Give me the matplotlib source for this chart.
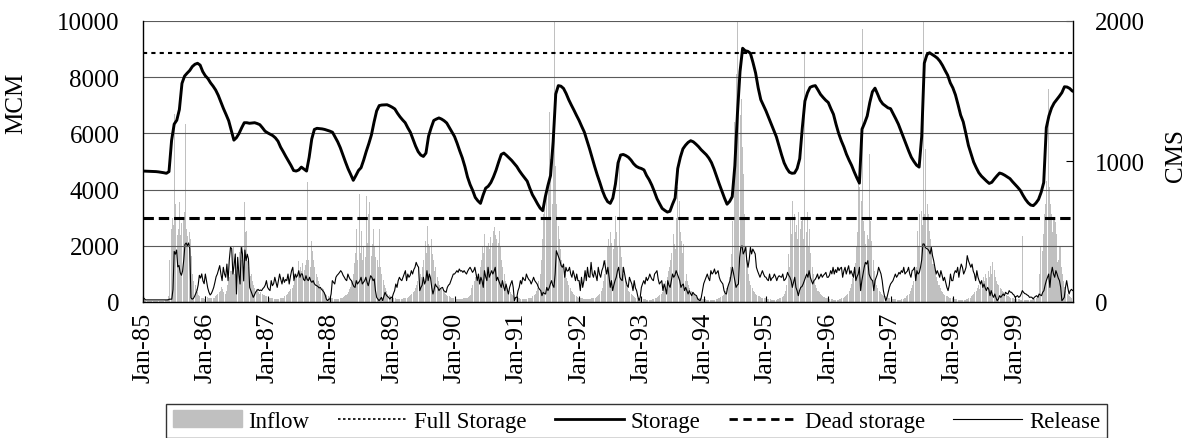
import matplotlib
matplotlib.use("Agg")
import matplotlib.pyplot as plt
import matplotlib.patches as mpatches
import matplotlib.lines as mlines
import numpy as np

plt.rcParams['font.family'] = ['Liberation Serif', 'DejaVu Serif']

years = list(range(1985, 2000))
tick_labels = ['Jan-%02d' % (y % 100) for y in years]

full_storage = 8850   # MCM
dead_storage = 3000   # MCM

# reservoir storage (MCM), two values per month, one row per year
storage = [
    [4660, 4655, 4650, 4648, 4645, 4640, 4630, 4615, 4600, 4580, 4640, 5750, 6330, 6470, 6850, 7780, 8040, 8145, 8240, 8380, 8460, 8495, 8430, 8200],
    [8050, 7950, 7800, 7680, 7540, 7350, 7110, 6880, 6670, 6450, 6100, 5760, 5850, 6000, 6200, 6380, 6380, 6360, 6370, 6380, 6350, 6310, 6200, 6080],
    [6020, 5970, 5920, 5840, 5720, 5510, 5350, 5180, 5020, 4860, 4680, 4660, 4700, 4800, 4730, 4660, 5150, 5800, 6140, 6180, 6170, 6160, 6140, 6110],
    [6080, 6040, 5870, 5700, 5490, 5230, 4980, 4740, 4540, 4330, 4500, 4680, 4780, 5050, 5360, 5640, 5950, 6400, 6800, 6990, 7010, 7015, 7020, 6980],
    [6930, 6870, 6720, 6590, 6480, 6380, 6200, 6040, 5800, 5550, 5350, 5230, 5180, 5300, 5900, 6200, 6460, 6510, 6550, 6510, 6450, 6370, 6210, 6050],
    [5890, 5650, 5380, 5130, 4820, 4450, 4180, 3970, 3720, 3600, 3510, 3800, 4050, 4120, 4250, 4450, 4690, 4980, 5250, 5300, 5220, 5130, 5040, 4930],
    [4820, 4670, 4540, 4420, 4300, 4050, 3820, 3660, 3490, 3340, 3250, 3750, 4150, 4500, 5700, 7400, 7700, 7680, 7600, 7420, 7200, 7010, 6830, 6640],
    [6460, 6250, 6050, 5760, 5460, 5140, 4820, 4520, 4250, 3960, 3730, 3570, 3510, 3700, 4200, 4950, 5230, 5250, 5210, 5150, 5050, 4920, 4830, 4780],
    [4750, 4700, 4500, 4350, 4160, 3930, 3680, 3500, 3330, 3260, 3200, 3230, 3480, 3700, 4750, 5150, 5450, 5580, 5680, 5740, 5700, 5620, 5530, 5420],
    [5330, 5240, 5120, 4960, 4730, 4460, 4200, 3950, 3700, 3480, 3580, 3750, 4850, 6700, 8200, 9030, 8940, 8920, 8850, 8520, 8150, 7620, 7200, 7000],
    [6800, 6570, 6350, 6120, 5880, 5560, 5240, 4950, 4760, 4620, 4580, 4590, 4750, 5100, 6200, 7150, 7450, 7640, 7680, 7700, 7550, 7390, 7280, 7180],
    [7100, 6880, 6680, 6320, 6000, 5740, 5520, 5260, 5050, 4860, 4630, 4420, 4230, 6150, 6370, 6620, 7100, 7480, 7610, 7400, 7180, 7050, 6980, 6910],
    [6880, 6700, 6520, 6330, 6090, 5850, 5600, 5370, 5150, 5000, 4870, 4800, 5900, 8500, 8800, 8870, 8810, 8750, 8680, 8570, 8420, 8240, 8070, 7800],
    [7620, 7370, 7020, 6650, 6410, 6000, 5570, 5270, 4980, 4780, 4600, 4480, 4390, 4300, 4220, 4260, 4380, 4490, 4590, 4560, 4510, 4450, 4390, 4280],
    [4180, 4080, 3970, 3800, 3650, 3530, 3450, 3430, 3520, 3650, 3900, 4250, 6200, 6620, 6900, 7080, 7200, 7320, 7450, 7660, 7650, 7600, 7510, 7470],
]

# weekly inflow (CMS), one row per year
inflow = [
    [15, 12, 10, 10, 8, 8, 8, 6, 6, 6, 5, 5, 5, 5, 6, 8, 10, 10, 12, 15, 20, 40, 300, 520, 600, 550, 1340, 700, 480, 520, 710, 480, 560, 600, 640, 1270, 520, 470, 500, 450, 330, 200, 150, 120, 90, 70, 50, 40, 30, 30, 25, 20],
    [40, 35, 30, 30, 25, 25, 25, 30, 40, 50, 60, 70, 80, 104, 90, 70, 60, 80, 120, 150, 180, 220, 260, 390, 200, 290, 180, 230, 353, 250, 300, 400, 709, 496, 507, 290, 250, 187, 200, 150, 120, 100, 90, 80, 70, 60, 70, 60, 50, 50, 40, 40],
    [35, 30, 30, 25, 25, 20, 20, 20, 20, 20, 25, 25, 30, 30, 40, 50, 60, 70, 80, 90, 100, 120, 150, 180, 200, 290, 180, 250, 220, 280, 230, 260, 300, 851, 300, 247, 436, 365, 300, 247, 200, 176, 150, 130, 110, 100, 90, 70, 60, 50, 40, 30],
    [30, 25, 25, 20, 20, 20, 20, 20, 25, 30, 30, 35, 40, 50, 60, 70, 90, 110, 150, 200, 280, 350, 520, 300, 768, 350, 507, 300, 400, 320, 757, 420, 626, 709, 330, 413, 520, 390, 320, 300, 247, 520, 250, 200, 160, 120, 100, 80, 60, 50, 40, 35],
    [30, 25, 25, 20, 20, 20, 20, 20, 20, 25, 25, 30, 30, 35, 40, 50, 60, 70, 80, 100, 120, 150, 104, 199, 180, 250, 300, 436, 350, 543, 413, 389, 450, 342, 300, 223, 250, 176, 150, 120, 100, 90, 80, 70, 60, 50, 45, 40, 35, 30, 30, 25],
    [25, 20, 20, 20, 20, 20, 20, 25, 25, 30, 30, 35, 40, 50, 100, 120, 150, 180, 200, 150, 200, 250, 300, 389, 350, 484, 400, 389, 420, 380, 460, 420, 507, 531, 480, 450, 420, 507, 389, 300, 247, 200, 150, 120, 100, 80, 70, 60, 50, 40, 35, 30],
    [30, 25, 25, 20, 20, 20, 20, 20, 20, 25, 25, 30, 30, 40, 50, 60, 80, 100, 150, 200, 300, 450, 626, 721, 816, 600, 850, 1350, 1018, 700, 1077, 2300, 970, 700, 540, 450, 380, 300, 250, 220, 200, 170, 150, 120, 100, 80, 70, 60, 50, 40, 35, 30],
    [30, 25, 25, 20, 20, 20, 20, 20, 20, 20, 25, 25, 30, 30, 35, 40, 50, 60, 80, 100, 150, 200, 300, 389, 450, 400, 500, 420, 380, 450, 614, 500, 400, 1053, 400, 320, 250, 200, 150, 120, 100, 80, 70, 60, 50, 40, 35, 30, 30, 25, 25, 20],
    [20, 20, 18, 18, 15, 15, 15, 15, 15, 20, 20, 25, 30, 35, 40, 50, 60, 70, 90, 120, 150, 180, 220, 250, 300, 350, 484, 413, 380, 600, 816, 721, 500, 436, 350, 413, 152, 200, 150, 120, 100, 80, 70, 60, 50, 40, 35, 30, 30, 25, 25, 20],
    [20, 18, 15, 15, 15, 15, 15, 15, 15, 15, 20, 20, 25, 30, 35, 40, 50, 60, 80, 100, 130, 180, 250, 342, 578, 1278, 1000, 1622, 2300, 1480, 1330, 1444, 1100, 910, 626, 389, 300, 199, 150, 120, 100, 80, 70, 60, 50, 45, 40, 35, 30, 30, 25, 25],
    [20, 20, 18, 18, 15, 15, 15, 15, 15, 20, 20, 25, 30, 35, 40, 60, 80, 120, 342, 250, 602, 484, 721, 626, 500, 550, 450, 640, 520, 580, 600, 450, 1789, 500, 640, 400, 520, 350, 250, 200, 150, 120, 100, 80, 70, 60, 50, 40, 35, 30, 30, 25],
    [20, 20, 18, 18, 15, 15, 15, 15, 15, 20, 20, 25, 30, 35, 40, 50, 60, 80, 100, 130, 170, 220, 280, 400, 500, 863, 816, 721, 1943, 579, 507, 413, 480, 450, 1053, 579, 436, 300, 220, 160, 120, 100, 80, 70, 60, 50, 45, 40, 35, 30, 30, 25],
    [25, 20, 20, 18, 18, 15, 15, 15, 15, 20, 20, 25, 30, 40, 50, 60, 80, 100, 120, 150, 200, 250, 507, 400, 626, 650, 550, 2300, 626, 1089, 700, 626, 507, 450, 389, 270, 250, 200, 180, 150, 120, 100, 80, 70, 60, 50, 45, 40, 35, 30, 25, 25],
    [25, 20, 20, 18, 15, 15, 15, 15, 15, 15, 15, 20, 20, 25, 30, 40, 50, 60, 70, 80, 100, 120, 90, 150, 130, 180, 150, 200, 170, 220, 180, 259, 200, 282, 230, 180, 150, 130, 120, 100, 90, 80, 70, 60, 50, 45, 40, 35, 30, 25, 25, 20],
    [20, 20, 18, 18, 15, 15, 472, 15, 15, 15, 15, 15, 15, 15, 15, 20, 20, 25, 30, 50, 200, 389, 365, 484, 626, 700, 863, 1516, 816, 700, 626, 500, 600, 567, 484, 282, 300, 389, 247, 200, 152, 104, 80, 60, 50, 40, 35, 30, 30, 25, 25, 20],
]

# weekly release (CMS), one row per year
release = [
    [30, 25, 15, 15, 15, 15, 15, 15, 15, 15, 15, 15, 15, 15, 15, 15, 15, 15, 15, 15, 15, 15, 20, 20, 20, 90, 360, 340, 370, 250, 260, 210, 190, 220, 300, 410, 420, 400, 420, 380, 30, 20, 25, 40, 60, 80, 120, 190, 170, 200, 150, 130],
    [199, 150, 100, 70, 50, 60, 80, 104, 140, 180, 199, 230, 259, 200, 152, 247, 200, 176, 270, 152, 300, 389, 380, 199, 260, 342, 57, 318, 200, 128, 389, 342, 150, 370, 294, 340, 306, 104, 81, 60, 33, 50, 70, 81, 90, 81, 85, 81, 95, 104, 120, 152],
    [104, 90, 81, 152, 116, 130, 176, 140, 104, 152, 199, 160, 128, 176, 140, 160, 152, 199, 128, 180, 223, 247, 152, 199, 176, 190, 223, 176, 200, 199, 160, 152, 187, 160, 152, 176, 150, 140, 152, 130, 120, 116, 110, 100, 104, 90, 81, 70, 50, 21, 9, 20],
    [21, 57, 152, 140, 128, 176, 190, 199, 210, 223, 211, 190, 176, 160, 152, 199, 176, 160, 152, 128, 110, 104, 152, 128, 140, 152, 176, 128, 140, 152, 176, 140, 116, 152, 187, 176, 152, 164, 81, 33, 21, 9, 20, 33, 9, 40, 69, 50, 40, 33, 21, 33],
    [33, 60, 81, 128, 104, 152, 176, 160, 152, 176, 199, 223, 152, 199, 176, 190, 223, 199, 230, 247, 282, 260, 247, 81, 104, 120, 176, 128, 150, 223, 152, 199, 170, 104, 57, 90, 128, 110, 104, 81, 93, 100, 104, 81, 75, 69, 104, 120, 128, 152, 176, 199],
    [199, 210, 223, 211, 235, 220, 223, 211, 223, 210, 199, 220, 235, 247, 230, 211, 223, 247, 200, 152, 199, 128, 176, 150, 104, 223, 180, 152, 247, 176, 200, 223, 199, 220, 247, 152, 176, 150, 128, 104, 152, 110, 81, 128, 90, 57, 104, 130, 152, 104, 9, 33],
    [33, 80, 104, 152, 128, 176, 160, 152, 199, 176, 160, 152, 128, 150, 176, 152, 140, 128, 104, 90, 81, 45, 69, 60, 57, 104, 81, 100, 128, 152, 120, 104, 199, 365, 342, 320, 294, 260, 247, 270, 176, 247, 220, 223, 247, 200, 176, 223, 190, 152, 199, 152],
    [152, 81, 176, 104, 150, 223, 152, 247, 180, 176, 282, 200, 176, 223, 190, 152, 247, 200, 176, 223, 247, 294, 247, 199, 247, 180, 104, 152, 81, 120, 152, 176, 220, 247, 176, 160, 152, 247, 199, 152, 120, 104, 176, 150, 128, 81, 152, 100, 81, 40, 9, 33],
    [104, 130, 152, 128, 176, 152, 170, 199, 176, 160, 152, 199, 210, 223, 164, 128, 140, 152, 81, 128, 100, 57, 152, 120, 104, 152, 199, 176, 190, 223, 200, 176, 152, 104, 120, 128, 81, 104, 80, 57, 81, 60, 45, 69, 57, 50, 45, 21, 15, 9, 33, 81],
    [130, 152, 176, 199, 170, 152, 223, 199, 210, 235, 199, 210, 223, 176, 152, 140, 128, 81, 60, 57, 104, 130, 152, 199, 247, 200, 152, 104, 120, 128, 318, 389, 400, 342, 360, 389, 294, 247, 300, 389, 342, 377, 360, 342, 247, 220, 199, 176, 200, 223, 199, 180],
    [176, 160, 152, 199, 152, 170, 176, 199, 180, 152, 176, 187, 180, 176, 199, 152, 160, 176, 211, 190, 176, 152, 104, 140, 176, 104, 80, 45, 81, 104, 110, 128, 152, 176, 199, 176, 223, 176, 150, 128, 152, 160, 176, 199, 164, 180, 199, 176, 190, 199, 211, 176],
    [176, 190, 223, 200, 247, 199, 230, 210, 247, 223, 240, 247, 176, 220, 247, 199, 230, 258, 199, 223, 200, 176, 247, 152, 180, 199, 247, 81, 150, 199, 247, 282, 270, 294, 199, 176, 160, 152, 81, 152, 176, 199, 247, 223, 200, 152, 81, 40, 9, 33, 70, 104],
    [128, 140, 152, 176, 199, 176, 190, 211, 199, 223, 210, 247, 199, 211, 220, 247, 200, 176, 223, 230, 247, 152, 223, 199, 210, 247, 300, 413, 413, 389, 380, 377, 365, 342, 389, 330, 294, 247, 199, 223, 200, 176, 223, 190, 152, 176, 140, 104, 81, 120, 199, 152],
    [152, 199, 223, 210, 247, 176, 230, 270, 247, 199, 220, 247, 330, 294, 270, 247, 270, 220, 199, 152, 223, 176, 150, 128, 152, 104, 128, 100, 81, 104, 90, 45, 81, 50, 33, 57, 30, 9, 21, 45, 33, 45, 57, 45, 69, 60, 57, 81, 70, 69, 57, 50],
    [33, 40, 45, 33, 40, 57, 81, 69, 60, 57, 50, 45, 33, 35, 33, 21, 33, 40, 45, 33, 57, 50, 45, 69, 81, 120, 152, 176, 199, 104, 200, 247, 200, 176, 223, 199, 170, 152, 104, 9, 20, 33, 104, 152, 100, 57, 81, 90, 81, 85, 81, 81],
]


def series_time(rows, per_year):
    # place each year's values on a fractional-year axis
    t, v = [], []
    for yr, row in zip(years, rows):
        t.extend(yr + np.arange(len(row)) / per_year)
        v.extend(row)
    return np.array(t), np.array(v, dtype=float)


t_sto, v_sto = series_time(storage, 24.0)
t_in, v_in = series_time(inflow, 52.0)
t_rel, v_rel = series_time(release, 52.0)

fig = plt.figure(figsize=(11.91, 4.39), dpi=100)
ax = fig.add_axes([0.1201, 0.3098, 0.7809, 0.6401])
ax2 = ax.twinx()
# storage axis drawn above the flow axis
ax.set_zorder(ax2.get_zorder() + 1)
ax.patch.set_visible(False)

ax2.bar(t_in, v_in, width=0.85 / 52, align='edge', color='#c0c0c0', linewidth=0)
ax2.plot(t_rel, v_rel, color='black', lw=0.8)

ax.axhline(full_storage, color='black', lw=1.5, linestyle=(0, (2, 2)))
ax.axhline(dead_storage, color='black', lw=2.2, linestyle=(0, (3.4, 1.6)))
ax.plot(t_sto, v_sto, color='black', lw=2.1, solid_joinstyle='round')

ax.set_xlim(years[0], years[0] + 14.93)
ax.set_ylim(0, 10000)
ax.set_yticks(range(0, 10001, 2000))
ax2.set_ylim(0, 2000)
ax2.set_yticks([0, 1000, 2000])

ax.set_xticks(years)
ax.set_xticklabels(tick_labels)

ax.yaxis.grid(True, color='#5a5a5a', lw=0.8)
ax.set_axisbelow(True)

ax.tick_params(axis='y', length=0, pad=17, labelsize=18)
ax.tick_params(axis='x', direction='in', length=4, pad=7, labelsize=19, labelrotation=90)
ax2.tick_params(axis='y', direction='in', length=5, pad=16, labelsize=18)

for a in (ax, ax2):
    a.spines['top'].set_visible(False)
ax.spines['right'].set_visible(False)
ax2.spines['left'].set_visible(False)
ax2.spines['bottom'].set_visible(False)
ax.spines['left'].set_linewidth(1.0)
ax.spines['bottom'].set_linewidth(1.0)
ax2.spines['right'].set_linewidth(1.0)

ax.set_ylabel('MCM', fontsize=18)
ax.yaxis.set_label_coords(-0.124, 0.71)
ax2.set_ylabel('CMS', fontsize=18)
ax2.yaxis.set_label_coords(1.099, 0.523)

handles = [
    mpatches.Patch(color='#c0c0c0', label='Inflow'),
    mlines.Line2D([], [], color='black', lw=1.2, linestyle=(0, (1.5, 1.5)), label='Full Storage'),
    mlines.Line2D([], [], color='black', lw=2.0, label='Storage'),
    mlines.Line2D([], [], color='black', lw=2.0, linestyle=(0, (3, 2)), label='Dead storage'),
    mlines.Line2D([], [], color='black', lw=0.8, label='Release'),
]
leg = fig.legend(handles=handles, loc='center', bbox_to_anchor=(0.5344, 0.0387),
                 ncol=5, fontsize=16.5, frameon=True, fancybox=False,
                 edgecolor='black', handlelength=3.0, handletextpad=0.3,
                 columnspacing=1.25, borderpad=0.3, borderaxespad=0)
leg.get_frame().set_linewidth(1.0)

fig.savefig('out.png', dpi=100)
